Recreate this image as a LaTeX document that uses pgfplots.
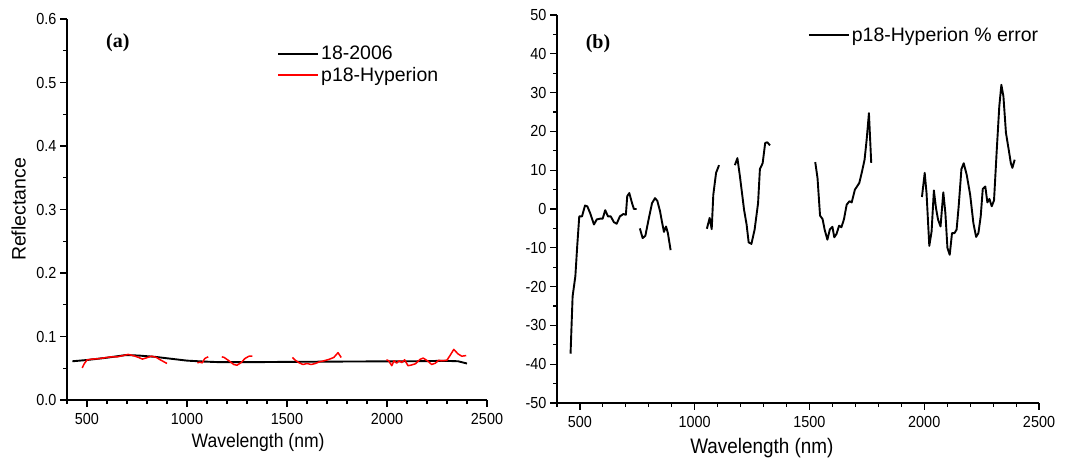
\documentclass[border=0pt]{standalone}
\usepackage{pgfplots}
\pgfplotsset{compat=1.18}
\usepackage{fontspec}
\setmainfont{Liberation Sans}
\newfontfamily\cf{Liberation Sans}[FakeStretch=0.9]
\newfontfamily\tnr{Liberation Serif}
\begin{document}
\begin{tikzpicture}
\path[use as bounding box] (0pt,0pt) rectangle (1070pt,460pt);
\pgfplotsset{
  myax/.style={
    scale only axis,
    anchor=south west,
    axis x line*=bottom, axis y line*=left,
    axis line style={line width=1.3pt,-},
    tick align=outside,
    major tick length=7pt, minor tick length=4pt,
    every tick/.style={line width=1.1pt,black},
    tick label style={font=\cf\fontsize{16}{18}\selectfont},
    /pgf/number format/assume math mode=true,
    /pgf/number format/1000 sep={},
    xmin=400, xmax=2500,
    xtick={500,1000,1500,2000,2500},
    minor xtick={400,600,700,800,900,1100,1200,1300,1400,1600,1700,1800,1900,2100,2200,2300,2400},
    xlabel={Wavelength (nm)},
    xticklabel style={yshift=-3pt},
    legend style={draw=none,fill=none,inner sep=0pt,font=\fontsize{19.5}{22}\selectfont,
      row sep=2pt, legend cell align=left},
    legend image code/.code={\draw[#1,line width=2pt] (0pt,0pt) -- (40pt,0pt);},
    unbounded coords=jump,
  }
}
% ---------- panel (a)
\begin{axis}[myax,
  at={(67pt,60pt)}, width=420pt, height=381pt,
  ymin=0, ymax=0.6,
  ytick={0,0.1,0.2,0.3,0.4,0.5,0.6},
  minor ytick={0.05,0.15,0.25,0.35,0.45,0.55},
  yticklabel style={/pgf/number format/.cd,fixed,fixed zerofill,precision=1},
  xlabel style={font=\cf\fontsize{19.5}{22}\selectfont,at={(axis description cs:0.455,0)},anchor=center,yshift=-42pt},
  ylabel={Reflectance},
  ylabel style={font=\fontsize{19.5}{22}\selectfont,at={(axis description cs:-0.115,0.5)},anchor=center},
  legend style={at={(0.5,0.935)},anchor=north west},
]
\addplot[black,line width=1.9pt,line join=round] coordinates {
(427,0.061) (500,0.063) (597,0.0665) (694,0.0708) (758,0.070) (839,0.068)
(919,0.065) (1000,0.062) (1080,0.0606) (1161,0.0596) (1323,0.0596) (1484,0.060)
(1806,0.0606) (2129,0.061) (2290,0.0617) (2355,0.061) (2400,0.0575)};
\addlegendentry{18-2006}
\addplot[red,line width=1.5pt,line join=round] coordinates {
(476,0.0505) (487,0.0575) (500,0.063) (524,0.0644) (556,0.065) (589,0.0665)
(621,0.068) (653,0.068) (677,0.0697) (706,0.0718) (734,0.0697) (758,0.067)
(777,0.0644) (798,0.0665) (823,0.069) (847,0.067) (868,0.063) (900,0.0575)
(980,nan)
(1052,0.0585) (1065,0.0596) (1076,0.0585) (1089,0.0654) (1106,0.068)
(1140,nan)
(1174,0.068) (1186,0.067) (1210,0.0617) (1234,0.0559) (1250,0.0548) (1271,0.059)
(1290,0.0654) (1310,0.069) (1327,0.069)
(1420,nan)
(1527,0.067) (1540,0.063) (1561,0.0585) (1580,0.0559) (1600,0.0575) (1621,0.0559)
(1642,0.0575) (1661,0.060) (1685,0.0617) (1710,0.064) (1734,0.067) (1755,0.0745)
(1771,0.067)
(1880,nan)
(1997,0.0634) (2008,0.0618) (2024,0.054) (2035,0.0618) (2048,0.058) (2061,0.0618)
(2074,0.059) (2088,0.0634) (2105,0.054) (2121,0.055) (2142,0.057) (2165,0.064)
(2181,0.066) (2202,0.0618) (2223,0.056) (2242,0.058) (2258,0.0625) (2274,0.0618)
(2299,0.0625) (2315,0.070) (2334,0.0797) (2355,0.0726) (2374,0.069) (2396,0.070)};
\addlegendentry{p18-Hyperion}
\node[font=\tnr\bfseries\fontsize{20}{22}\selectfont] at (axis description cs:0.121,0.937) {(a)};
\end{axis}
% ---------- panel (b)
\begin{axis}[myax,
  at={(557pt,57pt)}, width=482pt, height=388pt,
  ymin=-50, ymax=50,
  ytick={-50,-40,-30,-20,-10,0,10,20,30,40,50},
  minor ytick={-45,-35,-25,-15,-5,5,15,25,35,45},
  xlabel style={font=\cf\fontsize{21}{23}\selectfont,at={(axis description cs:0.425,0)},anchor=center,yshift=-45pt},
  legend style={at={(0.52,0.975)},anchor=north west},
]
\addplot[black,line width=1.9pt,line join=round] coordinates {
(459,-37.3) (468,-22.5) (480,-17.3) (488,-9.6) (497,-1.9) (509,-1.9) (522,0.9)
(532,0.7) (544,-1.0) (561,-4.0) (573,-2.7) (587,-2.5) (599,-2.5) (610,-0.3)
(622,-1.9) (634,-1.9) (648,-3.4) (660,-3.8) (674,-1.9) (689,-1.3) (700,-1.5)
(706,3.3) (715,4.1) (727,1.5) (735,0) (747,0)
(754,nan)
(761,-5.0) (773,-7.5) (785,-6.9) (799,-2.7) (814,1.5) (827,2.8) (837,2.1)
(849,-0.6) (857,-3.2) (866,-5.9) (875,-4.5) (883,-6.2) (895,-10.6)
(980,nan)
(1053,-5.1) (1065,-2.3) (1074,-5.2) (1081,3.7) (1093,9.3) (1106,11.3)
(1140,nan)
(1175,11.3) (1186,13.1) (1197,8.4) (1215,-0.2) (1226,-4.0) (1235,-8.6) (1247,-9.0)
(1261,-5.3) (1276,1.5) (1284,10.3) (1296,11.8) (1307,17.0) (1316,17.2) (1328,16.4)
(1420,nan)
(1525,12.1) (1535,8.0) (1546,-1.7) (1557,-2.6) (1566,-5.3) (1578,-7.9) (1589,-5.2)
(1600,-4.6) (1608,-7.3) (1618,-6.4) (1629,-4.3) (1639,-4.7) (1650,-2.7) (1662,1.1)
(1674,2.0) (1684,1.7) (1698,5.0) (1717,6.7) (1729,9.7) (1740,12.7) (1749,17.8)
(1759,24.7) (1769,11.9)
(1880,nan)
(1990,3.1) (2002,9.3) (2010,4.1) (2022,-9.5) (2032,-5.8) (2042,4.8) (2051,0.3)
(2060,-2.7) (2071,-4.5) (2083,4.3) (2092,-1.0) (2101,-10.0) (2111,-11.8) (2121,-6.2)
(2132,-6.2) (2141,-5.3) (2150,0.7) (2162,10.3) (2172,11.8) (2185,8.8) (2200,3.7)
(2214,-3.6) (2226,-7.2) (2236,-6.2) (2246,-1.9) (2255,5.2) (2266,5.8) (2275,1.7)
(2284,2.6) (2294,0.7) (2304,2.2) (2316,15.3) (2327,26.5) (2336,32.0) (2345,29.0)
(2356,19.6) (2368,15.3) (2377,11.9) (2384,10.6) (2394,12.7)};
\addlegendentry{p18-Hyperion \% error}
\node[font=\tnr\bfseries\fontsize{20}{22}\selectfont] at (axis description cs:0.085,0.925) {(b)};
\end{axis}
\end{tikzpicture}
\end{document}
